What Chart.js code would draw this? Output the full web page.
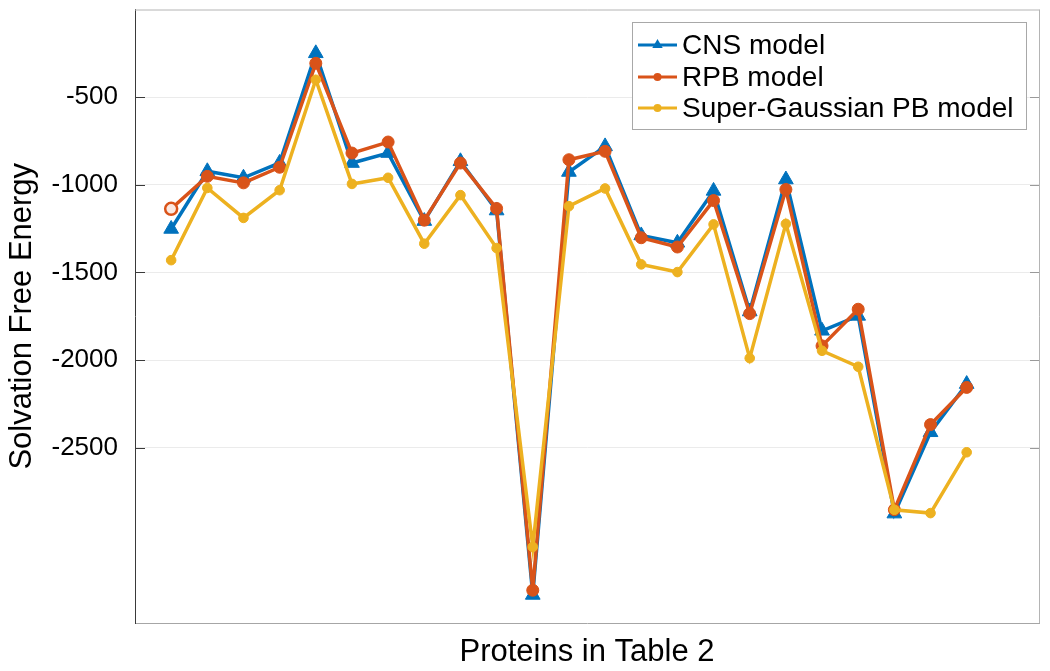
<!DOCTYPE html>
<html>
<head>
<meta charset="utf-8">
<script src="https://cdn.jsdelivr.net/npm/chart.js@4.4.1/dist/chart.umd.min.js"></script>
<style>
  html, body { margin: 0; padding: 0; background: #ffffff; }
  #wrap { width: 1050px; height: 671px; position: relative; }
</style>
</head>
<body>
<div id="wrap"><canvas id="c"></canvas></div>
<script>
// ---- data ----
const proteins = [1,2,3,4,5,6,7,8,9,10,11,12,13,14,15,16,17,18,19,20,21,22,23];
const cnsModel = [-1252, -923, -960, -875, -250, -876, -819, -1207, -866, -1147, -3340, -927, -781, -1289, -1331, -1035, -1723, -970, -1833, -1748, -2876, -2412, -2137];
const rpbModel = [-1137, -952, -989, -900, -307, -819, -756, -1202, -876, -1135, -3313, -857, -809, -1302, -1355, -1090, -1735, -1027, -1919, -1710, -2854, -2368, -2156];
const sgpbModel = [-1430, -1018, -1189, -1031, -401, -995, -960, -1336, -1059, -1361, -3066, -1122, -1021, -1454, -1498, -1226, -1989, -1223, -1947, -2038, -2854, -2873, -2526];
const yTicks = [-2500, -2000, -1500, -1000, -500];
const seriesNames = ['CNS model', 'RPB model', 'Super-Gaussian PB model'];
const xTitle = 'Proteins in Table 2';
const yTitle = 'Solvation Free Energy';

const BLUE = '#0072BD', ORANGE = '#D95319', YELLOW = '#EDB120';
const FONT = '"Liberation Sans", Arial, Helvetica, sans-serif';

const toXY = arr => arr.map((v, i) => ({ x: proteins[i], y: v }));

// box, inward ticks
const boxPlugin = {
  id: 'box',
  beforeDatasetsDraw(chart) {
    const { ctx, chartArea: a, scales } = chart;
    ctx.save();
    ctx.lineWidth = 1;
    ctx.strokeStyle = '#b4b4b4';
    ctx.beginPath();
    ctx.moveTo(a.left, a.top + 0.5); ctx.lineTo(a.right + 0.5, a.top + 0.5);
    ctx.moveTo(a.right + 0.5, a.top); ctx.lineTo(a.right + 0.5, a.bottom);
    ctx.stroke();
    yTicks.forEach(v => {
      const y = Math.round(scales.y.getPixelForValue(v)) + 0.5;
      ctx.strokeStyle = '#3a3a3a';
      ctx.beginPath(); ctx.moveTo(a.left, y); ctx.lineTo(a.left + 10, y); ctx.stroke();
      ctx.strokeStyle = '#9a9a9a';
      ctx.beginPath(); ctx.moveTo(a.right - 9, y); ctx.lineTo(a.right, y); ctx.stroke();
    });
    ctx.restore();
  }
};

// legend drawn inside the axes, MATLAB style
const legendPlugin = {
  id: 'insetLegend',
  afterDatasetsDraw(chart) {
    const { ctx } = chart;
    const x0 = 632, y0 = 22, w = 394, h = 107;
    ctx.save();
    ctx.fillStyle = '#ffffff';
    ctx.fillRect(x0, y0, w, h);
    ctx.strokeStyle = '#a8a8a8';
    ctx.lineWidth = 1;
    ctx.strokeRect(x0 + 0.5, y0 + 0.5, w, h);
    const rows = [45, 77, 108];
    chart.data.datasets.forEach((ds, i) => {
      const y = rows[i];
      ctx.strokeStyle = ds.borderColor;
      ctx.lineWidth = 3;
      ctx.beginPath(); ctx.moveTo(638, y); ctx.lineTo(677, y); ctx.stroke();
      ctx.fillStyle = ds.borderColor;
      ctx.beginPath();
      if (ds.pointStyle === 'triangle') {
        const r = 6;
        ctx.moveTo(657.5, y - r); ctx.lineTo(657.5 + r * 0.866, y + r * 0.5); ctx.lineTo(657.5 - r * 0.866, y + r * 0.5);
        ctx.closePath();
      } else {
        ctx.arc(657.5, y, 4, 0, Math.PI * 2);
      }
      ctx.fill();
      ctx.fillStyle = '#000000';
      ctx.font = '28px ' + FONT;
      ctx.textBaseline = 'middle';
      ctx.textAlign = 'left';
      ctx.fillText(ds.label, 682, y + 1);
    });
    ctx.restore();
  }
};

new Chart(document.getElementById('c'), {
  type: 'line',
  data: {
    datasets: [
      {
        label: seriesNames[0], data: toXY(cnsModel), order: 3,
        borderColor: BLUE, backgroundColor: BLUE, borderWidth: 3.5,
        pointStyle: 'triangle', pointRadius: 8.5, pointBackgroundColor: BLUE, pointBorderColor: BLUE, pointBorderWidth: 1,
        tension: 0, fill: false
      },
      {
        label: seriesNames[1], data: toXY(rpbModel), order: 2,
        borderColor: ORANGE, backgroundColor: ORANGE, borderWidth: 3.5,
        pointStyle: 'circle', pointRadius: 6,
        pointBackgroundColor: c => c.dataIndex === 0 ? '#fbe9e2' : ORANGE,
        pointBorderColor: ORANGE, pointBorderWidth: c => c.dataIndex === 0 ? 2.5 : 1,
        tension: 0, fill: false
      },
      {
        label: seriesNames[2], data: toXY(sgpbModel), order: 1,
        borderColor: YELLOW, backgroundColor: YELLOW, borderWidth: 3.5,
        pointStyle: 'circle', pointRadius: 4.8, pointBackgroundColor: YELLOW, pointBorderColor: YELLOW, pointBorderWidth: 1,
        tension: 0, fill: false
      }
    ]
  },
  options: {
    responsive: true,
    maintainAspectRatio: false,
    animation: false,
    events: [],
    layout: { padding: { top: 8, right: 11, left: 0, bottom: 0 } },
    plugins: { legend: { display: false }, tooltip: { enabled: false }, title: { display: false } },
    scales: {
      x: {
        type: 'linear', min: 0, max: 25,
        ticks: { display: false },
        grid: { display: false, drawTicks: false },
        border: { display: true, color: '#a6a6a6', width: 1 },
        title: { display: true, text: xTitle, color: '#000', font: { family: FONT, size: 31 }, padding: { top: 0, bottom: 0 } },
        afterFit: s => { s.height = 48; s.paddingLeft = 0; s.paddingRight = 0; }
      },
      y: {
        type: 'linear', min: -3500, max: 0,
        afterBuildTicks: s => { s.ticks = yTicks.map(v => ({ value: v })); },
        ticks: { color: '#000', padding: 17, font: { family: FONT, size: 26 }, callback: v => String(v) },
        grid: { color: '#ebebeb', lineWidth: 1, drawTicks: false },
        border: { display: true, color: '#3a3a3a', width: 1 },
        title: { display: true, text: yTitle, color: '#000', font: { family: FONT, size: 31 }, padding: { top: 4, bottom: 0 } },
        afterFit: s => { s.width = 135; s.paddingTop = 0; s.paddingBottom = 0; }
      }
    }
  },
  plugins: [boxPlugin, legendPlugin]
});
</script>
</body>
</html>
